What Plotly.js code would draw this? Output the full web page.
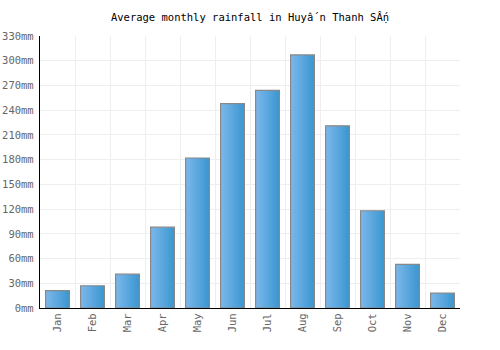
<!DOCTYPE html>
<html>
<head>
<meta charset="utf-8">
<script src="https://cdn.plot.ly/plotly-3.0.1.min.js"></script>
<style>html,body{margin:0;padding:0;background:#fff;}#chart{width:500px;height:350px;}</style>
</head>
<body>
<div id="chart"></div>
<script>
const months = ["Jan","Feb","Mar","Apr","May","Jun","Jul","Aug","Sep","Oct","Nov","Dec"];
const rainfall = [21, 27, 41, 98, 182, 248, 264, 307, 221, 118, 53, 18];
const titleText = "Average monthly rainfall in Huyấ n Thanh SẤṇ";
const unit = "mm";

const font = "DejaVu Sans Mono, monospace";

const trace = {
  type: "bar",
  x: months,
  y: rainfall,
  width: 0.68,
  marker: {color: "#5aa7df", line: {color: "#888888", width: 1.2}},
  hoverinfo: "none"
};

const layout = {
  width: 500, height: 350,
  margin: {l: 40, r: 40, t: 36, b: 42, pad: 0},
  paper_bgcolor: "#ffffff", plot_bgcolor: "#ffffff",
  showlegend: false,
  title: {text: titleText, font: {family: font, size: 10.5, color: "#000"}, x: 0.5, xanchor: "center", y: 0.95, yanchor: "middle"},
  xaxis: {
    type: "category", tickson: "boundaries", showgrid: true, gridcolor: "#eeeeee", gridwidth: 1,
    showline: true, linecolor: "#000", linewidth: 1.2, ticks: "", tickangle: -90,
    tickfont: {family: font, size: 10.5, color: "#666"}, fixedrange: true
  },
  yaxis: {
    range: [0, 330], dtick: 30, tick0: 0, ticksuffix: unit, showgrid: true, gridcolor: "#eeeeee", gridwidth: 1,
    showline: true, linecolor: "#000", linewidth: 1.2, ticks: "outside", ticklen: 3, tickcolor: "rgba(0,0,0,0)",
    zeroline: false,
    tickfont: {family: font, size: 10.5, color: "#666"}, fixedrange: true
  }
};

Plotly.newPlot("chart", [trace], layout, {displayModeBar: false, staticPlot: true}).then(function(gd){
  const svg = gd.querySelector("svg.main-svg");
  const ns = "http://www.w3.org/2000/svg";
  let defs = svg.querySelector("defs");
  if (!defs) { defs = document.createElementNS(ns, "defs"); svg.insertBefore(defs, svg.firstChild); }
  const lg = document.createElementNS(ns, "linearGradient");
  lg.setAttribute("id", "barGrad");
  lg.setAttribute("x1", "0"); lg.setAttribute("y1", "0"); lg.setAttribute("x2", "1"); lg.setAttribute("y2", "0");
  [["0%", "#7db8eb"], ["100%", "#3996d0"]].forEach(function(s){
    const st = document.createElementNS(ns, "stop");
    st.setAttribute("offset", s[0]); st.setAttribute("stop-color", s[1]);
    lg.appendChild(st);
  });
  defs.appendChild(lg);
  gd.querySelectorAll(".bars .point path").forEach(function(p){ p.style.fill = "url(#barGrad)"; });
});
</script>
</body>
</html>
